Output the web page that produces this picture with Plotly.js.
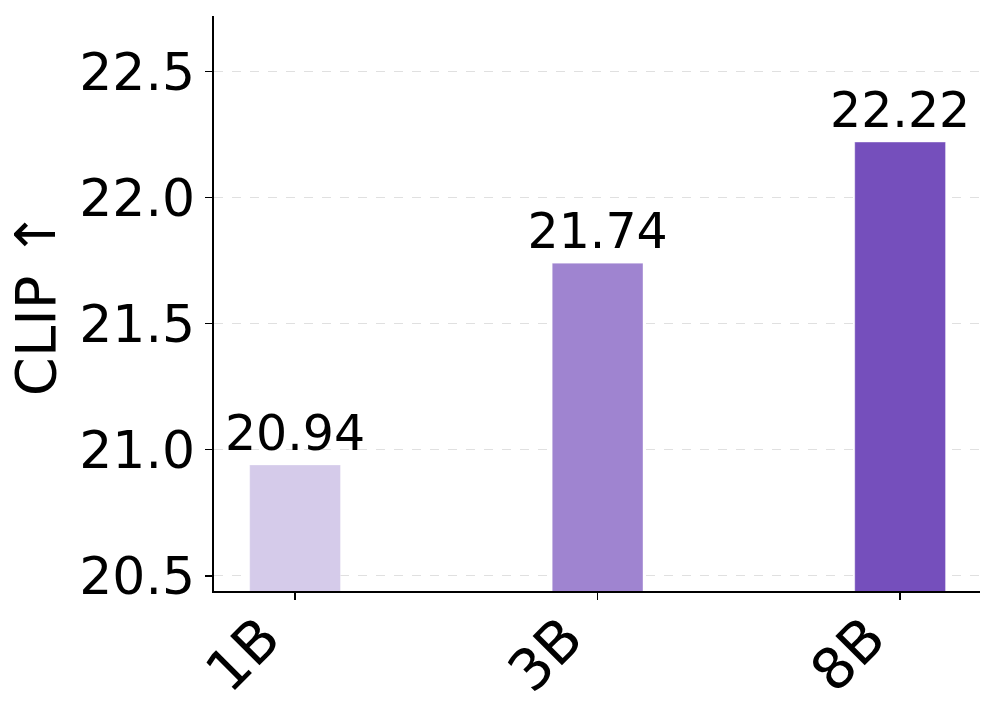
<!DOCTYPE html>
<html>
<head>
<meta charset="utf-8">
<script src="https://cdn.plot.ly/plotly-3.0.1.min.js"></script>
<style>html,body{margin:0;padding:0;background:#fff;}</style>
</head>
<body>
<div id="chart" style="width:997px;height:719px;"></div>
<script>
const categories = ["1B", "3B", "8B"];
const clipValues = [20.94, 21.74, 22.22];
const valueLabels = ["20.94", "21.74", "22.22"];
const barColors = ["#d5cbea", "#9f84d0", "#754fbc"];
const yTickVals = [20.5, 21.0, 21.5, 22.0, 22.5];
const yTickText = ["20.5", "21.0", "21.5", "22.0", "22.5"];

const font = "DejaVu Sans, sans-serif";
const fs = 52;

const trace = {
  type: "bar",
  x: categories,
  y: clipValues,
  base: 0,
  text: valueLabels,
  textposition: "outside",
  constraintext: "none",
  textfont: {family: font, size: 49, color: "#000"},
  cliponaxis: false,
  width: 0.3,
  marker: {color: barColors, line: {color: "rgba(255,255,255,0.35)", width: 1}},
  hoverinfo: "none"
};

const layout = {
  width: 997,
  height: 719,
  margin: {l: 214, r: 17, t: 16, b: 128},
  paper_bgcolor: "#fff",
  plot_bgcolor: "#fff",
  showlegend: false,
  font: {family: font, color: "#000"},
  xaxis: {
    type: "category",
    range: [-0.268, 2.264],
    showline: true, linecolor: "#000", linewidth: 1.6,
    ticks: "outside", ticklen: 7, tickwidth: 1.3, tickcolor: "#000",
    tickangle: -45,
    ticklabelshift: -32,
    ticklabelstandoff: -18,
    tickfont: {family: font, size: 57, color: "#000"},
    showgrid: false, zeroline: false
  },
  yaxis: {
    range: [20.44, 22.72],
    tickvals: yTickVals,
    ticktext: yTickText,
    showline: true, linecolor: "#000", linewidth: 1.6,
    ticks: "outside", ticklen: 7, tickwidth: 1.3, tickcolor: "#000",
    tickfont: {family: font, size: fs, color: "#000"},
    showgrid: true, gridcolor: "#e0e0e0", gridwidth: 1, griddash: "dash",
    zeroline: false,
    title: {text: "CLIP ↑", font: {family: font, size: 56, color: "#000"}, standoff: 5}
  }
};

Plotly.newPlot("chart", [trace], layout, {displayModeBar: false, staticPlot: true});
</script>
</body>
</html>
